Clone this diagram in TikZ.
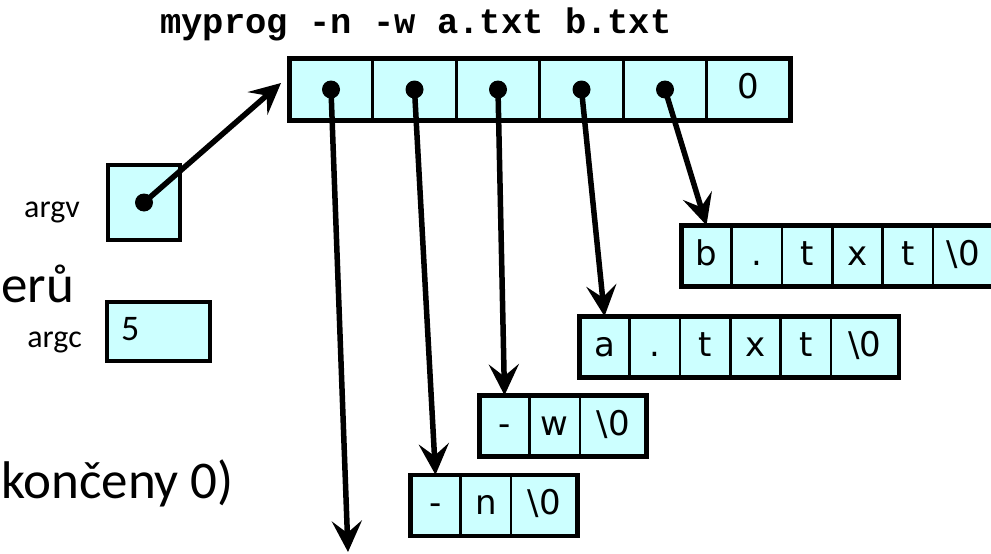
\documentclass[tikz,border=0pt]{standalone}
\usepackage{fontspec}
\setmainfont{Carlito}
\newfontfamily\boxfont{DejaVu Sans}
\newfontfamily\codefont{Liberation Mono}
\usetikzlibrary{arrows.meta,positioning,fit}
\definecolor{cellfill}{HTML}{CCFFFF}

\begin{document}
\begin{tikzpicture}[x=1pt,y=-1pt,>={Stealth[length=31pt,width=30pt,inset=12pt]},
 cell/.style={draw,line width=1.3pt,fill=cellfill,minimum width=49pt,minimum height=60pt,inner sep=0pt,
   text height=25pt,text depth=7pt,font=\boxfont\fontsize{34}{40}\selectfont},
 ptrcell/.style={cell,minimum width=82.2pt,minimum height=61pt},
 frame/.style={draw,line width=4.5pt,inner sep=0pt},
 lbl/.style={font=\fontsize{32}{38}\selectfont,anchor=base east,inner sep=0pt},
 slide/.style={font=\fontsize{53}{60}\selectfont,anchor=base west,inner sep=0pt},
 arr/.style={->,line width=5.5pt}]
 \useasboundingbox (0,0) rectangle (991,554);
 % command line and argv array
 \node[font=\codefont\bfseries\fontsize{35.5}{40}\selectfont,anchor=base,inner sep=0pt] (cmd) at (416,33) {myprog -n -w a.txt b.txt};
 \node[ptrcell] (p1) at (331,89.5) {};
 \node[ptrcell,right=0pt of p1] (p2) {};
 \node[ptrcell,right=0pt of p2] (p3) {};
 \node[ptrcell,right=0pt of p3] (p4) {};
 \node[ptrcell,right=0pt of p4] (p5) {};
 \node[ptrcell,right=0pt of p5] (p6) {0};
 \node[frame,fit=(p1)(p6)] (ptrs) {};
 % strings
 \node[cell] (b1) at (706.5,256) {b};
 \node[cell,right=0pt of b1] (b2) {.};
 \node[cell,right=0pt of b2] (b3) {t};
 \node[cell,right=0pt of b3] (b4) {x};
 \node[cell,right=0pt of b4] (b5) {t};
 \node[cell,right=0pt of b5,minimum width=60pt] (b6) {\textbackslash0};
 \node[frame,fit=(b1)(b6)] (bstr) {};
 \node[cell] (a1) at (604.5,347) {a};
 \node[cell,right=0pt of a1] (a2) {.};
 \node[cell,right=0pt of a2] (a3) {t};
 \node[cell,right=0pt of a3] (a4) {x};
 \node[cell,right=0pt of a4] (a5) {t};
 \node[cell,right=0pt of a5,minimum width=67pt] (a6) {\textbackslash0};
 \node[frame,fit=(a1)(a6)] (astr) {};
 \node[cell] (w1) at (504.5,426) {-};
 \node[cell,right=0pt of w1] (w2) {w};
 \node[cell,right=0pt of w2,minimum width=65pt] (w3) {\textbackslash0};
 \node[frame,fit=(w1)(w3)] (wstr) {};
 \node[cell] (n1) at (435.5,505.5) {-};
 \node[cell,right=0pt of n1] (n2) {n};
 \node[cell,right=0pt of n2,minimum width=65pt] (n3) {\textbackslash0};
 \node[frame,fit=(n1)(n3)] (nstr) {};
 % argv, argc
 \node[cell,line width=3.5pt,minimum width=72pt,minimum height=75pt] (argv) at (144,202.5) {};
 \node[cell,line width=3.5pt,minimum width=103pt,minimum height=59pt,text width=75pt,inner xsep=14pt,align=left,
   font=\fontsize{36}{40}\selectfont] (argc) at (158.5,331.5) {5};
 \node[lbl] (argvlbl) at (80,217) {argv};
 \node[lbl] (argclbl) at (82,347) {argc};
 % cut-off slide text
 \node[slide] (frag1) at (1,302) {erů};
 \node[slide] (frag2) at (1,498) {končeny 0)};
 % pointers
 \coordinate (argvtip) at (281,83);
 \coordinate (ptrend) at (348,552);
 \fill (argv.center) circle (9pt);
 \draw[arr] (argv.center) -- (argvtip);
 \foreach \p/\t in {p1/ptrend,p2/n1.north,p3/w1.north,p4/a1.north,p5/b1.north} {
   \fill (\p.center) circle (9pt);
   \draw[arr] (\p.center) -- (\t);
 }
\end{tikzpicture}
\end{document}
